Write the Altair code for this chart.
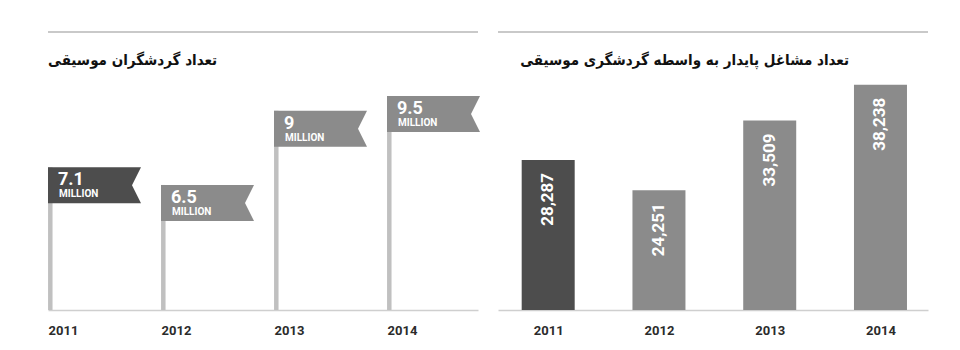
import altair as alt
import pandas as pd

# ---- data ----
YEARS = [2011, 2012, 2013, 2014]
TOURISTS_M = [7.1, 6.5, 9.0, 9.5]
TOURIST_LABELS = ["7.1", "6.5", "9", "9.5"]
JOBS = [28287, 24251, 33509, 38238]
TONE = ["dark", "light", "light", "light"]
UNIT = "MILLION"

LEFT_TITLE = "تعداد گردشگران موسیقی"
RIGHT_TITLE = "تعداد مشاغل پایدار به واسطه گردشگری موسیقی"

left_df = pd.DataFrame({"year": YEARS, "v": TOURISTS_M, "lab": TOURIST_LABELS,
                        "unit": [UNIT] * 4, "tone": TONE})
right_df = pd.DataFrame({"year": YEARS, "v": JOBS, "tone": TONE})

W, H = 430, 278
FONT = "Roboto"
TITLE_FONT = "DejaVu Sans Condensed, DejaVu Sans"
TOP_LINE = "#c9c9c9"
BASE_LINE = "#cfcfcf"
POLE = "#c0c0c0"
LABEL = "#2b2b2b"

color = alt.Color("tone:N", scale=alt.Scale(domain=["dark", "light"],
                                            range=["#4d4d4d", "#8b8b8b"]), legend=None)


def x_axis(align):
    return alt.Axis(values=YEARS, format="d", title=None, ticks=False, grid=False,
                    domainColor=BASE_LINE, domainWidth=1.5, labelFont=FONT,
                    labelFontWeight="bold", labelFontSize=13, labelColor=LABEL,
                    labelAlign=align, labelPadding=14, labelFlush=False)


def frame(title, tx, talign):
    top = alt.Chart(pd.DataFrame({"a": [0]})).mark_rule(
        color=TOP_LINE, strokeWidth=2).encode(
        x=alt.value(0), x2=alt.value(W), y=alt.value(0))
    ttl = alt.Chart(pd.DataFrame({"t": [title]})).mark_text(
        font=TITLE_FONT, fontWeight="bold", fontSize=15, color="#111111",
        align=talign, baseline="alphabetic").encode(
        text="t:N", x=alt.value(tx), y=alt.value(33))
    return top, ttl


# ---- left panel: flags ----
L_MIN, L_MAX = 2.285, 11.655
xl = alt.X("year:Q", scale=alt.Scale(domain=[2011, 2011 + W / 113], nice=False, zero=False),
           axis=x_axis("left"))
yl = alt.Y("v:Q", scale=alt.Scale(domain=[L_MIN, L_MAX], nice=False, zero=False), axis=None)

lbase = alt.Chart(left_df)
poles = lbase.mark_rule(color=POLE, strokeWidth=4.5, xOffset=2.3).encode(
    x=xl, y=yl, y2=alt.datum(L_MIN))
FLAG = "M0,0 L5.1667,0 L4.6667,1 L5.1667,2 L0,2 Z"
flags = lbase.mark_point(shape=FLAG, filled=True, size=1296, opacity=1).encode(
    x="year:Q", y="v:Q", color=color)
nums = lbase.mark_text(font=FONT, fontWeight="bold", fontSize=18, color="white",
                       align="left", baseline="alphabetic", dx=10, dy=18).encode(
    x="year:Q", y="v:Q", text="lab:N")
units = lbase.mark_text(font=FONT, fontWeight="bold", fontSize=10, color="white",
                        align="left", baseline="alphabetic", dx=11, dy=30).encode(
    x="year:Q", y="v:Q", text="unit:N")
ltop, lttl = frame(LEFT_TITLE, 0, "left")
left = alt.layer(poles, flags, nums, units, ltop, lttl).properties(width=W, height=H)

# ---- right panel: bars ----
R_MIN, R_MAX = 8381, 45244
xr = alt.X("year:Q", scale=alt.Scale(domain=[2010.592, 2010.592 + W / 113.4], nice=False,
                                     zero=False), axis=x_axis("center"))
yr = alt.Y("v:Q", scale=alt.Scale(domain=[R_MIN, R_MAX], nice=False, zero=False), axis=None)

rbase = alt.Chart(right_df)
bars = rbase.mark_bar(size=53).encode(x=xr, y=yr, y2=alt.datum(R_MIN), color=color)
vals = rbase.mark_text(font=FONT, fontWeight="bold", fontSize=17, color="white",
                       angle=270, align="right", baseline="middle", yOffset=13).encode(
    x="year:Q", y="v:Q", text=alt.Text("v:Q", format=",d"))
rtop, rttl = frame(RIGHT_TITLE, 351, "right")
right = alt.layer(bars, vals, rtop, rttl).properties(width=W, height=H)

chart = alt.hconcat(left, right, spacing=20, bounds="flush").properties(
    padding={"left": 47, "top": 31, "right": 10, "bottom": 0},
    background="white",
).configure_view(stroke=None)

chart.save("out.html", embed_options={"renderer": "svg", "actions": False})
